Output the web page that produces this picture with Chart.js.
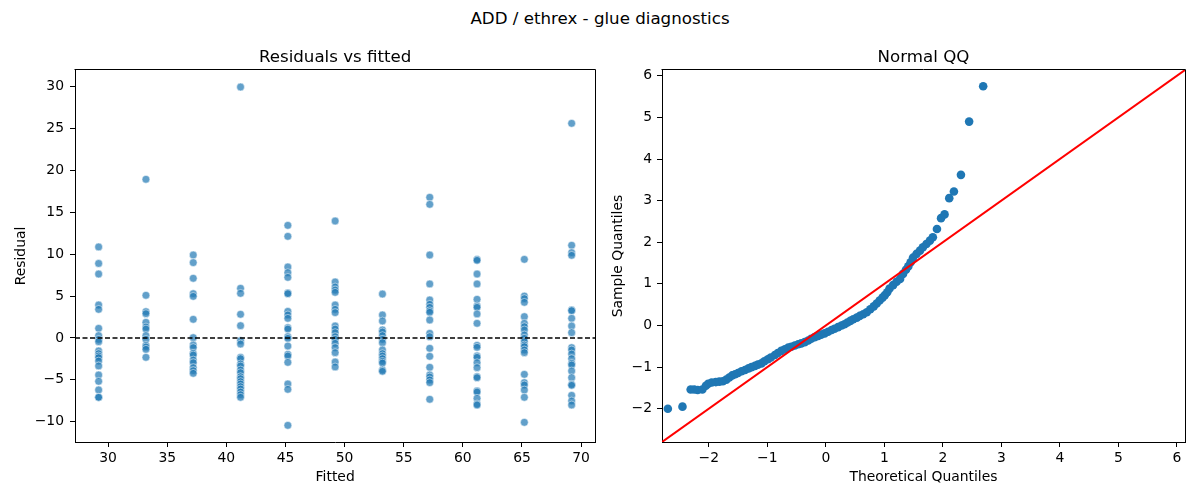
<!DOCTYPE HTML>
<html>
<head>
   <title>ADD / ethrex - glue diagnostics</title>
   <meta charset="utf-8">
   <script src="https://cdn.jsdelivr.net/npm/chart.js"></script>
   <style>
     body { margin: 0; background: #fff; font-family: "DejaVu Sans", sans-serif; }
     #wrap { position: relative; width: 1200px; height: 500px; }
     #suptitle { position: absolute; left: 0; top: 9px; width: 1200px; text-align: center;
                 font-size: 16.67px; line-height: 20px; color: #000; }
     canvas { position: absolute; top: 0; }
   </style>
</head>
<body>
  <div id="wrap">
    <div id="suptitle">ADD / ethrex - glue diagnostics</div>
    <canvas id="resChart" width="600" height="500" style="left:0px"></canvas>
    <canvas id="qqChart" width="600" height="500" style="left:600px"></canvas>
  </div>

<script type="text/javascript">
  // fitted value of each group (x) and the residuals read at it (y)
  var fittedLevels = [29.2, 33.2, 37.2, 41.2, 45.2, 49.2, 53.2, 57.2, 61.2, 65.2, 69.2];

  var resAt29 = [10.87, 8.9, 7.64, 3.94, 3.42, 1.15, 0.28, -0.16, -0.44, -1.55, -1.87, -2.15, -2.35, -2.75, -3.34, -4.42, -5.17, -6.2, -7.08, -7.08];
  var resAt33 = [18.95, 5.1, 3.14, 2.9, 1.87, 1.31, 1.07, 0.28, -0.16, -0.88, -1.07, -1.35, -2.31];
  var resAt37 = [9.91, 9.0, 7.13, 5.29, 4.97, 2.23, 0.04, -0.84, -1.15, -1.83, -2.03, -2.63, -2.95, -3.54, -3.9, -4.22];
  var resAt41 = [29.97, 5.93, 5.33, 2.83, 1.47, -0.32, -0.72, -2.31, -2.47, -3.1, -3.34, -3.82, -4.14, -4.62, -4.86, -5.21, -5.49, -5.81, -6.09, -6.45, -6.77, -7.08];
  var resAt45 = [13.45, 12.14, 8.48, 7.8, 7.24, 5.37, 5.29, 3.18, 2.75, 2.35, 1.23, 1.07, 0.16, -0.04, -0.96, -1.95, -2.15, -2.91, -5.49, -6.13, -10.43];
  var resAt49 = [13.97, 6.69, 6.09, 5.73, 5.45, 3.94, 3.42, 3.03, 1.43, 1.07, 0.64, 0.16, -0.16, -0.64, -1.15, -1.75, -2.87, -3.46];
  var resAt53 = [5.25, 2.75, 2.03, 0.96, 0.72, 0.28, -0.16, -0.56, -1.43, -1.87, -2.15, -2.47, -2.79, -2.99, -3.82, -3.98];
  var resAt57 = [16.8, 15.96, 9.91, 6.45, 4.54, 4.02, 3.66, 3.26, 3.07, 2.15, 0.56, 0.16, -1.23, -2.19, -3.5, -4.42, -4.66, -5.01, -5.33, -7.32];
  var resAt61 = [9.39, 9.27, 7.64, 6.45, 4.62, 3.82, 3.66, 2.87, 1.75, -0.88, -1.11, -2.15, -2.31, -2.95, -3.54, -4.62, -4.74, -6.33, -6.45, -7.2, -7.88, -8.0];
  var resAt65 = [9.39, 5.01, 4.7, 4.26, 2.55, 1.75, 1.35, 0.96, 0.36, -0.04, -0.44, -0.84, -1.04, -1.43, -1.75, -4.34, -5.33, -5.61, -6.21, -7.08, -10.07];
  var resAt69 = [25.63, 11.07, 10.19, 9.87, 3.34, 3.26, 2.35, 1.43, 0.64, -1.15, -1.43, -1.91, -2.47, -3.03, -3.22, -3.94, -4.74, -5.53, -5.65, -6.85, -7.52, -8.0];
  var residualGroups = [resAt29, resAt33, resAt37, resAt41, resAt45, resAt49, resAt53, resAt57, resAt61, resAt65, resAt69];

  // normal QQ points
  var qqTheoretical = [-2.70, -2.45, -2.31, -2.25, -2.19, -2.11, -2.05, -2.01, -1.95, -1.88, -1.82, -1.76, -1.70, -1.65, -1.60, -1.55,
                       -1.50, -1.44, -1.38, -1.32, -1.27, -1.21, -1.16, -1.10, -1.05, -0.99, -0.94, -0.87, -0.82, -0.76, -0.70, -0.64,
                       -0.59, -0.53, -0.47, -0.42, -0.36, -0.30, -0.25, -0.19, -0.13, -0.08, -0.02, 0.04, 0.10, 0.15, 0.21, 0.27,
                       0.32, 0.37, 0.42, 0.47, 0.53, 0.58, 0.64, 0.70, 0.76, 0.82, 0.87, 0.92, 0.97, 1.01, 1.05, 1.09, 1.15, 1.21,
                       1.27, 1.32, 1.37, 1.41, 1.45, 1.49, 1.55, 1.61, 1.66, 1.72, 1.78, 1.83, 1.90, 1.97, 2.03, 2.11, 2.19, 2.31,
                       2.45, 2.69];
  var qqSample = [-2.00, -1.95, -1.54, -1.54, -1.55, -1.54, -1.45, -1.40, -1.37, -1.36, -1.35, -1.34, -1.30, -1.25, -1.20, -1.17,
                  -1.14, -1.10, -1.07, -1.03, -1.00, -0.97, -0.94, -0.91, -0.86, -0.81, -0.77, -0.71, -0.66, -0.61, -0.57, -0.53,
                  -0.51, -0.48, -0.45, -0.43, -0.40, -0.36, -0.32, -0.28, -0.25, -0.22, -0.19, -0.15, -0.11, -0.08, -0.04, 0.00,
                  0.03, 0.07, 0.11, 0.15, 0.19, 0.23, 0.27, 0.32, 0.39, 0.46, 0.53, 0.60, 0.67, 0.73, 0.80, 0.89, 0.97, 1.05,
                  1.12, 1.24, 1.34, 1.42, 1.52, 1.63, 1.72, 1.80, 1.88, 1.96, 2.04, 2.12, 2.32, 2.58, 2.67, 3.06, 3.22, 3.62,
                  4.90, 5.75];

  // axis limits and ticks
  var fittedRange = [27.2, 71.2];
  var residualRange = [-12.42, 32.0];
  var qqRange = [-2.8, 6.14];
  var fittedTicks = [30, 35, 40, 45, 50, 55, 60, 65, 70];
  var residualTicks = [-10, -5, 0, 5, 10, 15, 20, 25, 30];
  var qqTicks = [-2, -1, 0, 1, 2, 3, 4, 5, 6];

  Chart.defaults.font.family = "'DejaVu Sans', sans-serif";
  Chart.defaults.color = '#000';

  var tickFont = { size: 13.9 };
  var minus = function (v) { return String(v).replace('-', '\u2212'); };

  // top and right spines like a matplotlib axes box
  var framePlugin = {
    id: 'framePlugin',
    afterDraw: function (chart) {
      var a = chart.chartArea;
      var c = chart.ctx;
      c.save();
      c.strokeStyle = '#000';
      c.lineWidth = 1;
      c.beginPath();
      c.moveTo(Math.round(a.left) - 0.5, Math.round(a.top) - 0.5);
      c.lineTo(Math.round(a.right) + 0.5, Math.round(a.top) - 0.5);
      c.lineTo(Math.round(a.right) + 0.5, Math.round(a.bottom) + 0.5);
      c.stroke();
      c.restore();
    }
  };

  function makeAxis(range, ticks, label, size, titlePad, tickPad) {
    return {
      type: 'linear',
      min: range[0],
      max: range[1],
      afterBuildTicks: function (scale) {
        scale.ticks = ticks.map(function (v) { return { value: v }; });
      },
      afterFit: function (scale) {
        if (scale.isHorizontal()) { scale.height = size; } else { scale.width = size; }
      },
      grid: { display: true, drawOnChartArea: false, drawTicks: true, tickLength: 5, color: '#000', lineWidth: 1 },
      border: { display: true, color: '#000', width: 1 },
      ticks: { color: '#000', font: tickFont, padding: tickPad, autoSkip: false, maxRotation: 0, callback: minus },
      title: { display: true, text: label, color: '#000', font: tickFont, padding: titlePad }
    };
  }

  // centred over the plot area, not the whole canvas
  function panelTitle(text) {
    return { display: true, fullSize: false, text: text, color: '#000',
             font: { size: 16.67, weight: 'normal' }, padding: { top: 12, bottom: 2 } };
  }

  // left panel: residuals vs fitted
  var resPoints = [];
  for (var g = 0; g < fittedLevels.length; g++) {
    for (var k = 0; k < residualGroups[g].length; k++) {
      resPoints.push({ x: fittedLevels[g], y: residualGroups[g][k] });
    }
  }

  var resChart = new Chart(document.getElementById('resChart'), {
    type: 'scatter',
    data: {
      datasets: [
        {
          type: 'line',
          label: 'zero',
          data: [{ x: fittedRange[0], y: 0 }, { x: fittedRange[1], y: 0 }],
          borderColor: '#000',
          borderWidth: 1.4,
          borderDash: [5, 2.5],
          pointRadius: 0,
          fill: false
        },
        {
          label: 'residual',
          data: resPoints,
          backgroundColor: 'rgba(31,119,180,0.7)',
          borderColor: 'rgba(255,255,255,0.7)',
          borderWidth: 0.7,
          pointRadius: 3.9
        }
      ]
    },
    options: {
      responsive: false,
      animation: false,
      layout: { padding: { top: 36, left: 0, right: 3, bottom: 0 } },
      plugins: {
        legend: { display: false },
        tooltip: { enabled: false },
        title: panelTitle('Residuals vs fitted')
      },
      scales: {
        x: makeAxis(fittedRange, fittedTicks, 'Fitted', 58, { top: 0, bottom: 14.5 }, 3),
        y: makeAxis(residualRange, residualTicks, 'Residual', 75, { top: 12.7, bottom: 0 }, 6)
      }
    },
    plugins: [framePlugin]
  });

  // right panel: normal QQ
  var qqPoints = qqTheoretical.map(function (t, i) { return { x: t, y: qqSample[i] }; });

  var qqChart = new Chart(document.getElementById('qqChart'), {
    type: 'scatter',
    data: {
      datasets: [
        {
          type: 'line',
          label: '45',
          data: [{ x: qqRange[0], y: qqRange[0] }, { x: qqRange[1], y: qqRange[1] }],
          borderColor: '#ff0000',
          borderWidth: 2,
          pointRadius: 0,
          fill: false
        },
        {
          label: 'qq',
          data: qqPoints,
          backgroundColor: '#1f77b4',
          borderColor: '#1f77b4',
          borderWidth: 0,
          pointRadius: 4.3
        }
      ]
    },
    options: {
      responsive: false,
      animation: false,
      layout: { padding: { top: 36, left: 0, right: 15, bottom: 0 } },
      plugins: {
        legend: { display: false },
        tooltip: { enabled: false },
        title: panelTitle('Normal QQ')
      },
      scales: {
        x: makeAxis(qqRange, qqTicks, 'Theoretical Quantiles', 58, { top: 0, bottom: 14.5 }, 3),
        y: makeAxis(qqRange, qqTicks, 'Sample Quantiles', 62, { top: 9.7, bottom: 0 }, 5)
      }
    },
    plugins: [framePlugin]
  });
</script>
</body>
</html>
